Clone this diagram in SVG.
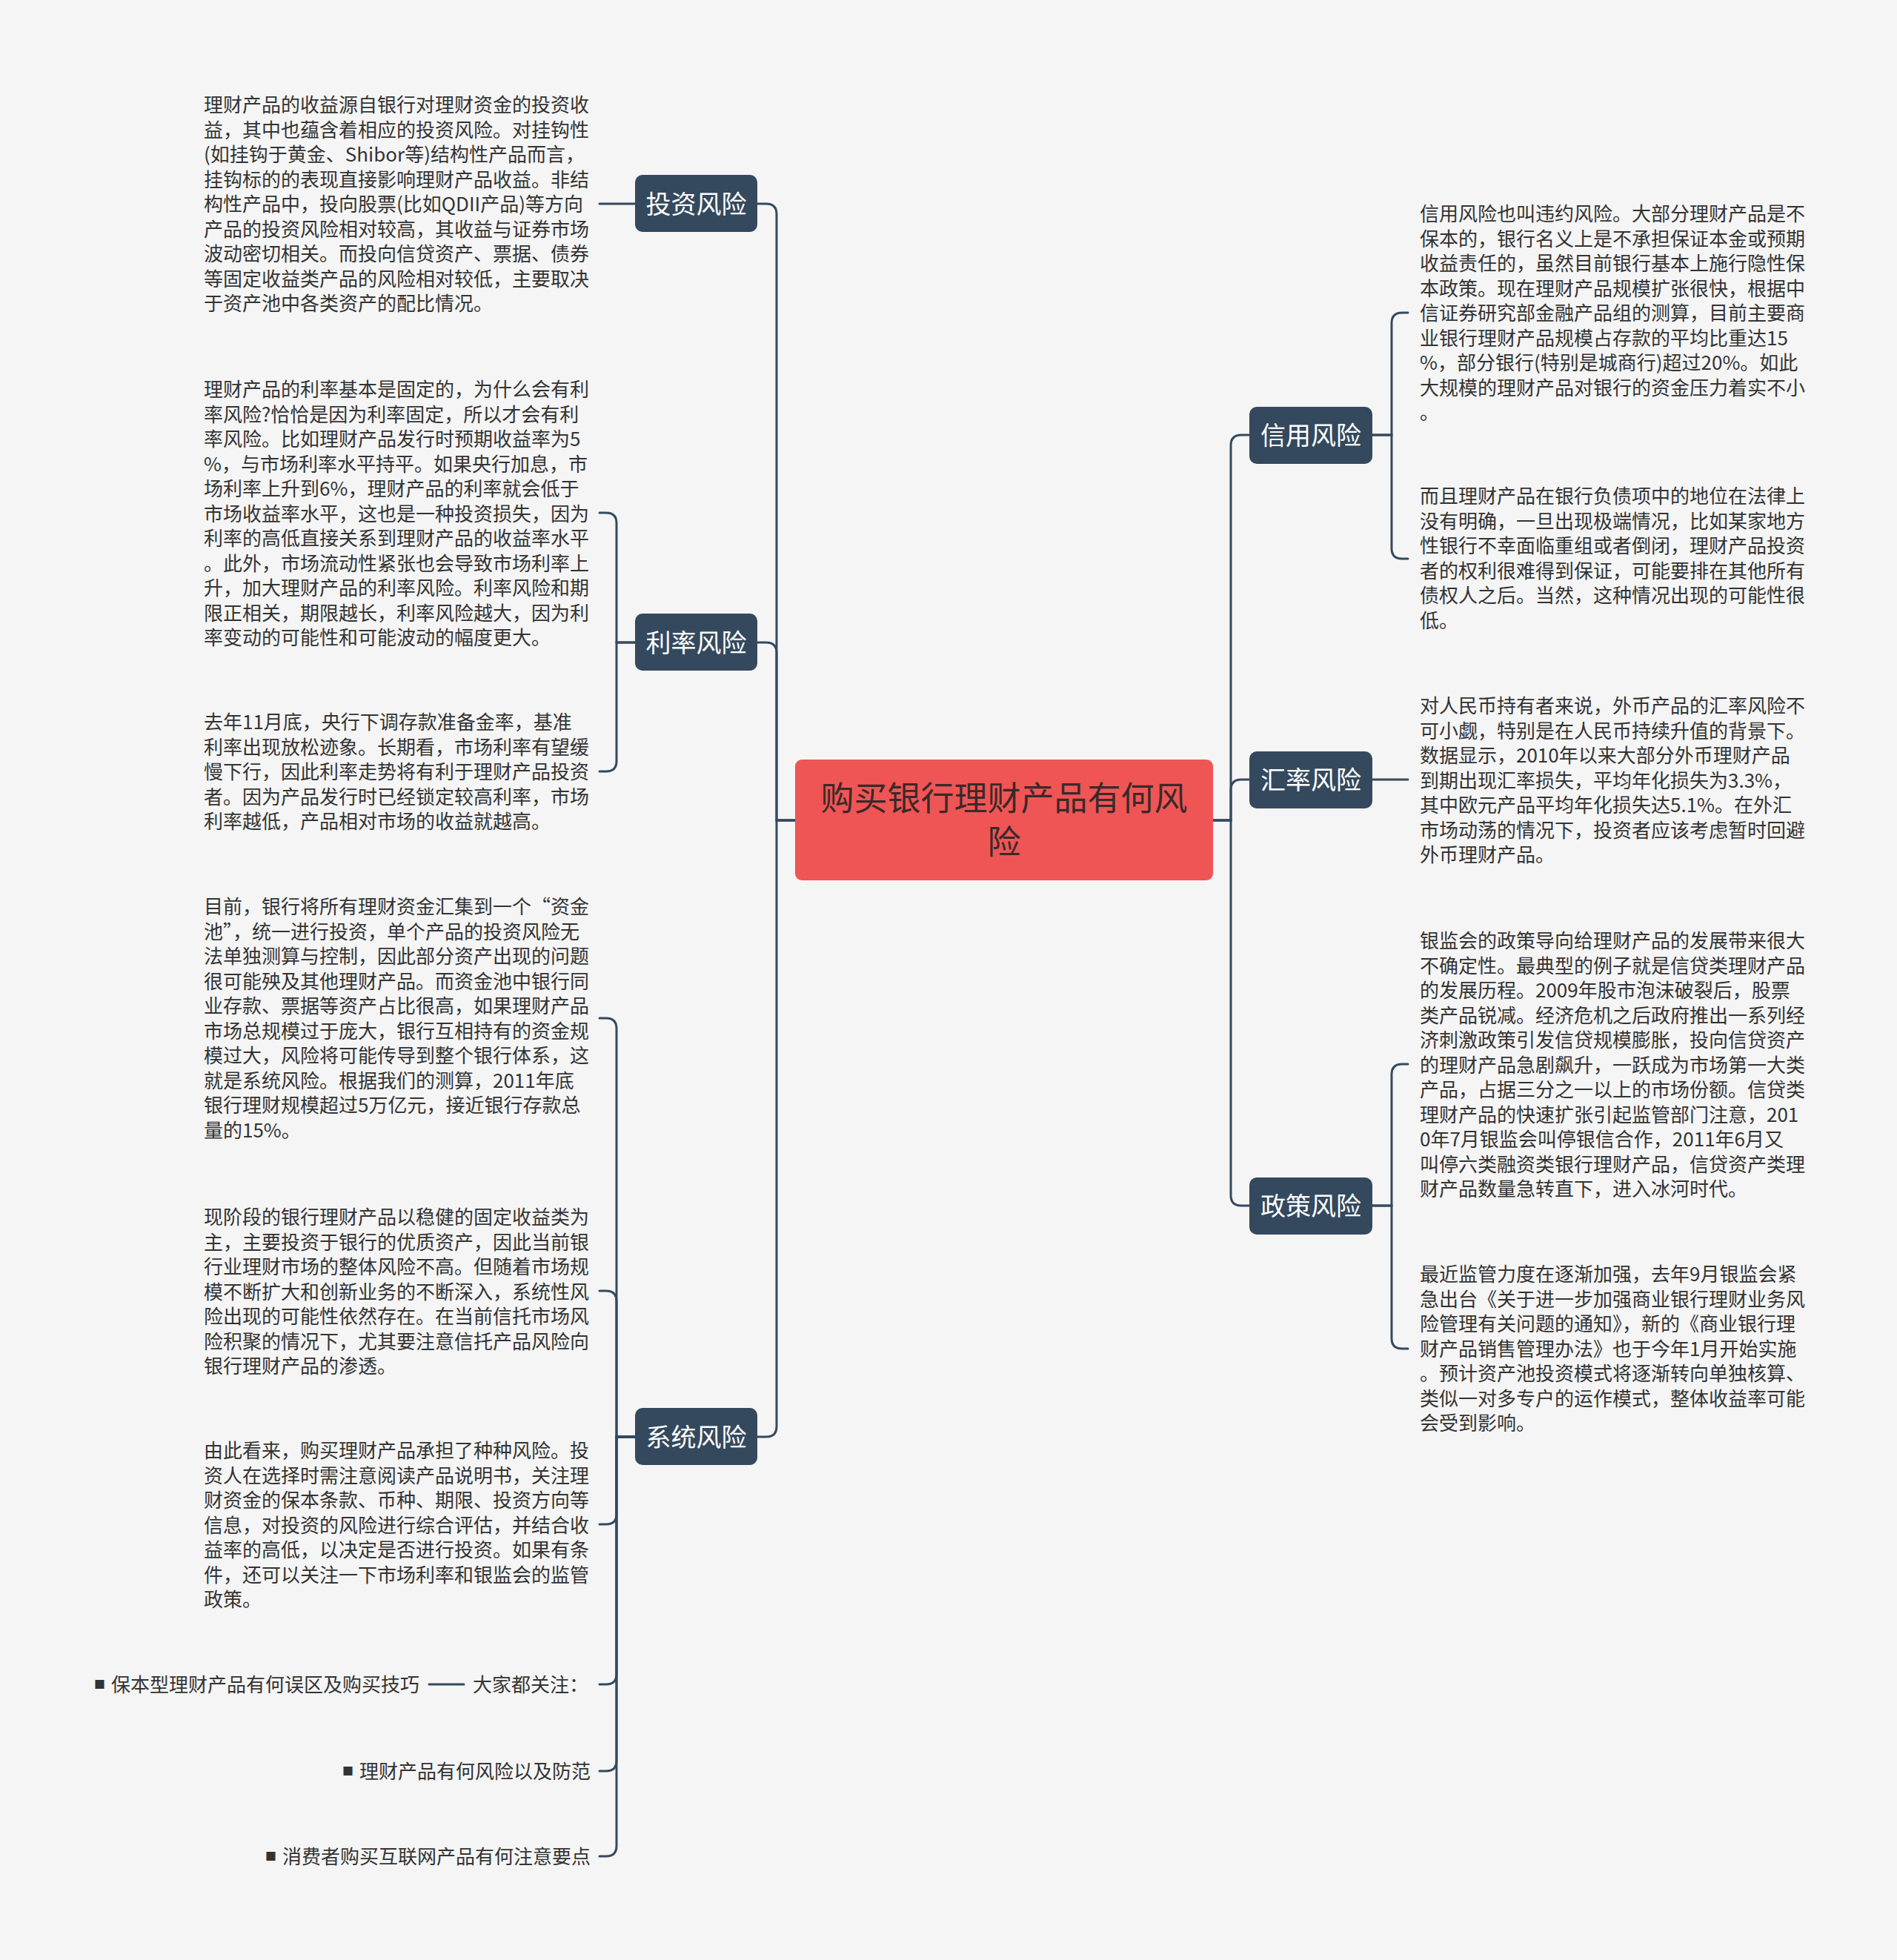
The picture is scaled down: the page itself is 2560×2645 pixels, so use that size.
<svg xmlns="http://www.w3.org/2000/svg" width="2560" height="2645" viewBox="0 0 2560 2645">
<style>
.bg{fill:#f5f5f5}
.conn path{fill:none;stroke:#34495e;stroke-width:3;stroke-linecap:round}
.main rect{fill:#34495e}
.main text{font-family:"Noto Sans CJK SC","Microsoft YaHei",sans-serif;font-size:34px;fill:#ffffff;text-anchor:middle}
.root rect{fill:#ef5555}
.root text{font-family:"Noto Sans CJK SC",sans-serif;font-size:45px;fill:#3a2a2a;text-anchor:middle}
.leaf text{font-family:"Noto Sans CJK SC",sans-serif;font-size:26px;fill:#333333}
.leaf .b{font-size:15px;fill:#333333}
</style>
<rect class="bg" x="0" y="0" width="2560" height="2645"/>

<g class="conn" id="connectors">
<path d="M1073 1107 H1048 V289 Q1048 275 1034 275 H1022"/>
<path d="M1073 1107 H1048 V881 Q1048 867 1034 867 H1022"/>
<path d="M1073 1107 H1048 V1925 Q1048 1939 1034 1939 H1022"/>
<path d="M1637 1107 H1661 V601 Q1661 587 1675 587 H1686"/>
<path d="M1637 1107 H1661 V1066 Q1661 1052 1675 1052 H1686"/>
<path d="M1637 1107 H1661 V1613 Q1661 1627 1675 1627 H1686"/>
<path d="M857 275 H809"/>
<path d="M857 867 H832 V706 Q832 692 818 692 H809"/>
<path d="M857 867 H832 V1027 Q832 1041 818 1041 H809"/>
<path d="M857 1939 H832 V1388 Q832 1374 818 1374 H809"/>
<path d="M857 1939 H832 V1756 Q832 1742 818 1742 H809"/>
<path d="M857 1939 H832 V2043 Q832 2057 818 2057 H809"/>
<path d="M857 1939 H832 V2259 Q832 2273 818 2273 H809"/>
<path d="M857 1939 H832 V2376 Q832 2390 818 2390 H809"/>
<path d="M857 1939 H832 V2491 Q832 2505 818 2505 H809"/>
<path d="M626 2273 H579"/>
<path d="M1852 587 H1878 V436 Q1878 422 1892 422 H1900"/>
<path d="M1852 587 H1878 V740 Q1878 754 1892 754 H1900"/>
<path d="M1852 1052 H1900"/>
<path d="M1852 1627 H1878 V1450 Q1878 1436 1892 1436 H1900"/>
<path d="M1852 1627 H1878 V1806 Q1878 1820 1892 1820 H1900"/>
</g>

<g class="root" id="root">
<rect x="1073" y="1025" width="564" height="163" rx="9"/>
<text x="1355" y="1094">购买银行理财产品有何风</text>
<text x="1355" y="1153">险</text>
</g>

<g class="main" id="n-touzi"><rect x="857" y="236" width="165" height="77" rx="10"/><text x="939.5" y="288">投资风险</text></g>
<g class="main" id="n-lilv"><rect x="857" y="828" width="165" height="77" rx="10"/><text x="939.5" y="880">利率风险</text></g>
<g class="main" id="n-xitong"><rect x="857" y="1900" width="165" height="77" rx="10"/><text x="939.5" y="1952">系统风险</text></g>
<g class="main" id="n-xinyong"><rect x="1686" y="549" width="166" height="77" rx="10"/><text x="1769" y="600">信用风险</text></g>
<g class="main" id="n-huilv"><rect x="1686" y="1014" width="166" height="77" rx="10"/><text x="1769" y="1065">汇率风险</text></g>
<g class="main" id="n-zhengce"><rect x="1686" y="1589" width="166" height="77" rx="10"/><text x="1769" y="1640">政策风险</text></g>

<g class="leaf" id="l-touzi">
<text x="275" y="151"><tspan x="275">理财产品的收益源自银行对理财资金的投资收</tspan><tspan x="275" dy="33.5">益，其中也蕴含着相应的投资风险。对挂钩性</tspan><tspan x="275" dy="33.5">(如挂钩于黄金、Shibor等)结构性产品而言，</tspan><tspan x="275" dy="33.5">挂钩标的的表现直接影响理财产品收益。非结</tspan><tspan x="275" dy="33.5">构性产品中，投向股票(比如QDII产品)等方向</tspan><tspan x="275" dy="33.5">产品的投资风险相对较高，其收益与证券市场</tspan><tspan x="275" dy="33.5">波动密切相关。而投向信贷资产、票据、债券</tspan><tspan x="275" dy="33.5">等固定收益类产品的风险相对较低，主要取决</tspan><tspan x="275" dy="33.5">于资产池中各类资产的配比情况。</tspan></text>
</g>

<g class="leaf" id="l-lilv-1">
<text x="275" y="535"><tspan x="275">理财产品的利率基本是固定的，为什么会有利</tspan><tspan x="275" dy="33.5">率风险?恰恰是因为利率固定，所以才会有利</tspan><tspan x="275" dy="33.5">率风险。比如理财产品发行时预期收益率为5</tspan><tspan x="275" dy="33.5">%，与市场利率水平持平。如果央行加息，市</tspan><tspan x="275" dy="33.5">场利率上升到6%，理财产品的利率就会低于</tspan><tspan x="275" dy="33.5">市场收益率水平，这也是一种投资损失，因为</tspan><tspan x="275" dy="33.5">利率的高低直接关系到理财产品的收益率水平</tspan><tspan x="275" dy="33.5">。此外，市场流动性紧张也会导致市场利率上</tspan><tspan x="275" dy="33.5">升，加大理财产品的利率风险。利率风险和期</tspan><tspan x="275" dy="33.5">限正相关，期限越长，利率风险越大，因为利</tspan><tspan x="275" dy="33.5">率变动的可能性和可能波动的幅度更大。</tspan></text>
</g>

<g class="leaf" id="l-lilv-2">
<text x="275" y="984"><tspan x="275">去年11月底，央行下调存款准备金率，基准</tspan><tspan x="275" dy="33.5">利率出现放松迹象。长期看，市场利率有望缓</tspan><tspan x="275" dy="33.5">慢下行，因此利率走势将有利于理财产品投资</tspan><tspan x="275" dy="33.5">者。因为产品发行时已经锁定较高利率，市场</tspan><tspan x="275" dy="33.5">利率越低，产品相对市场的收益就越高。</tspan></text>
</g>

<g class="leaf" id="l-xitong-1">
<text x="275" y="1233"><tspan x="275">目前，银行将所有理财资金汇集到一个“资金</tspan><tspan x="275" dy="33.5">池”，统一进行投资，单个产品的投资风险无</tspan><tspan x="275" dy="33.5">法单独测算与控制，因此部分资产出现的问题</tspan><tspan x="275" dy="33.5">很可能殃及其他理财产品。而资金池中银行同</tspan><tspan x="275" dy="33.5">业存款、票据等资产占比很高，如果理财产品</tspan><tspan x="275" dy="33.5">市场总规模过于庞大，银行互相持有的资金规</tspan><tspan x="275" dy="33.5">模过大，风险将可能传导到整个银行体系，这</tspan><tspan x="275" dy="33.5">就是系统风险。根据我们的测算，2011年底</tspan><tspan x="275" dy="33.5">银行理财规模超过5万亿元，接近银行存款总</tspan><tspan x="275" dy="33.5">量的15%。</tspan></text>
</g>

<g class="leaf" id="l-xitong-2">
<text x="275" y="1652"><tspan x="275">现阶段的银行理财产品以稳健的固定收益类为</tspan><tspan x="275" dy="33.5">主，主要投资于银行的优质资产，因此当前银</tspan><tspan x="275" dy="33.5">行业理财市场的整体风险不高。但随着市场规</tspan><tspan x="275" dy="33.5">模不断扩大和创新业务的不断深入，系统性风</tspan><tspan x="275" dy="33.5">险出现的可能性依然存在。在当前信托市场风</tspan><tspan x="275" dy="33.5">险积聚的情况下，尤其要注意信托产品风险向</tspan><tspan x="275" dy="33.5">银行理财产品的渗透。</tspan></text>
</g>

<g class="leaf" id="l-xitong-3">
<text x="275" y="1967"><tspan x="275">由此看来，购买理财产品承担了种种风险。投</tspan><tspan x="275" dy="33.5">资人在选择时需注意阅读产品说明书，关注理</tspan><tspan x="275" dy="33.5">财资金的保本条款、币种、期限、投资方向等</tspan><tspan x="275" dy="33.5">信息，对投资的风险进行综合评估，并结合收</tspan><tspan x="275" dy="33.5">益率的高低，以决定是否进行投资。如果有条</tspan><tspan x="275" dy="33.5">件，还可以关注一下市场利率和银监会的监管</tspan><tspan x="275" dy="33.5">政策。</tspan></text>
</g>

<g class="leaf" id="l-dajia">
<text x="638" y="2283">大家都关注：</text>
</g>
<g class="leaf" id="l-baoben">
<text class="b" x="127" y="2279">■</text>
<text x="150" y="2283">保本型理财产品有何误区及购买技巧</text>
</g>
<g class="leaf" id="l-fangfan">
<text class="b" x="462" y="2396">■</text>
<text x="485" y="2400">理财产品有何风险以及防范</text>
</g>
<g class="leaf" id="l-hulianwang">
<text class="b" x="358" y="2511">■</text>
<text x="381" y="2515">消费者购买互联网产品有何注意要点</text>
</g>

<g class="leaf" id="l-xinyong-1">
<text x="1916" y="298"><tspan x="1916">信用风险也叫违约风险。大部分理财产品是不</tspan><tspan x="1916" dy="33.5">保本的，银行名义上是不承担保证本金或预期</tspan><tspan x="1916" dy="33.5">收益责任的，虽然目前银行基本上施行隐性保</tspan><tspan x="1916" dy="33.5">本政策。现在理财产品规模扩张很快，根据中</tspan><tspan x="1916" dy="33.5">信证券研究部金融产品组的测算，目前主要商</tspan><tspan x="1916" dy="33.5">业银行理财产品规模占存款的平均比重达15</tspan><tspan x="1916" dy="33.5">%，部分银行(特别是城商行)超过20%。如此</tspan><tspan x="1916" dy="33.5">大规模的理财产品对银行的资金压力着实不小</tspan><tspan x="1916" dy="33.5">。</tspan></text>
</g>

<g class="leaf" id="l-xinyong-2">
<text x="1916" y="679"><tspan x="1916">而且理财产品在银行负债项中的地位在法律上</tspan><tspan x="1916" dy="33.5">没有明确，一旦出现极端情况，比如某家地方</tspan><tspan x="1916" dy="33.5">性银行不幸面临重组或者倒闭，理财产品投资</tspan><tspan x="1916" dy="33.5">者的权利很难得到保证，可能要排在其他所有</tspan><tspan x="1916" dy="33.5">债权人之后。当然，这种情况出现的可能性很</tspan><tspan x="1916" dy="33.5">低。</tspan></text>
</g>

<g class="leaf" id="l-huilv">
<text x="1916" y="962"><tspan x="1916">对人民币持有者来说，外币产品的汇率风险不</tspan><tspan x="1916" dy="33.5">可小觑，特别是在人民币持续升值的背景下。</tspan><tspan x="1916" dy="33.5">数据显示，2010年以来大部分外币理财产品</tspan><tspan x="1916" dy="33.5">到期出现汇率损失，平均年化损失为3.3%，</tspan><tspan x="1916" dy="33.5">其中欧元产品平均年化损失达5.1%。在外汇</tspan><tspan x="1916" dy="33.5">市场动荡的情况下，投资者应该考虑暂时回避</tspan><tspan x="1916" dy="33.5">外币理财产品。</tspan></text>
</g>

<g class="leaf" id="l-zhengce-1">
<text x="1916" y="1279"><tspan x="1916">银监会的政策导向给理财产品的发展带来很大</tspan><tspan x="1916" dy="33.5">不确定性。最典型的例子就是信贷类理财产品</tspan><tspan x="1916" dy="33.5">的发展历程。2009年股市泡沫破裂后，股票</tspan><tspan x="1916" dy="33.5">类产品锐减。经济危机之后政府推出一系列经</tspan><tspan x="1916" dy="33.5">济刺激政策引发信贷规模膨胀，投向信贷资产</tspan><tspan x="1916" dy="33.5">的理财产品急剧飙升，一跃成为市场第一大类</tspan><tspan x="1916" dy="33.5">产品，占据三分之一以上的市场份额。信贷类</tspan><tspan x="1916" dy="33.5">理财产品的快速扩张引起监管部门注意，201</tspan><tspan x="1916" dy="33.5">0年7月银监会叫停银信合作，2011年6月又</tspan><tspan x="1916" dy="33.5">叫停六类融资类银行理财产品，信贷资产类理</tspan><tspan x="1916" dy="33.5">财产品数量急转直下，进入冰河时代。</tspan></text>
</g>

<g class="leaf" id="l-zhengce-2">
<text x="1916" y="1729"><tspan x="1916">最近监管力度在逐渐加强，去年9月银监会紧</tspan><tspan x="1916" dy="33.5">急出台《关于进一步加强商业银行理财业务风</tspan><tspan x="1916" dy="33.5">险管理有关问题的通知》，新的《商业银行理</tspan><tspan x="1916" dy="33.5">财产品销售管理办法》也于今年1月开始实施</tspan><tspan x="1916" dy="33.5">。预计资产池投资模式将逐渐转向单独核算、</tspan><tspan x="1916" dy="33.5">类似一对多专户的运作模式，整体收益率可能</tspan><tspan x="1916" dy="33.5">会受到影响。</tspan></text>
</g>
</svg>
